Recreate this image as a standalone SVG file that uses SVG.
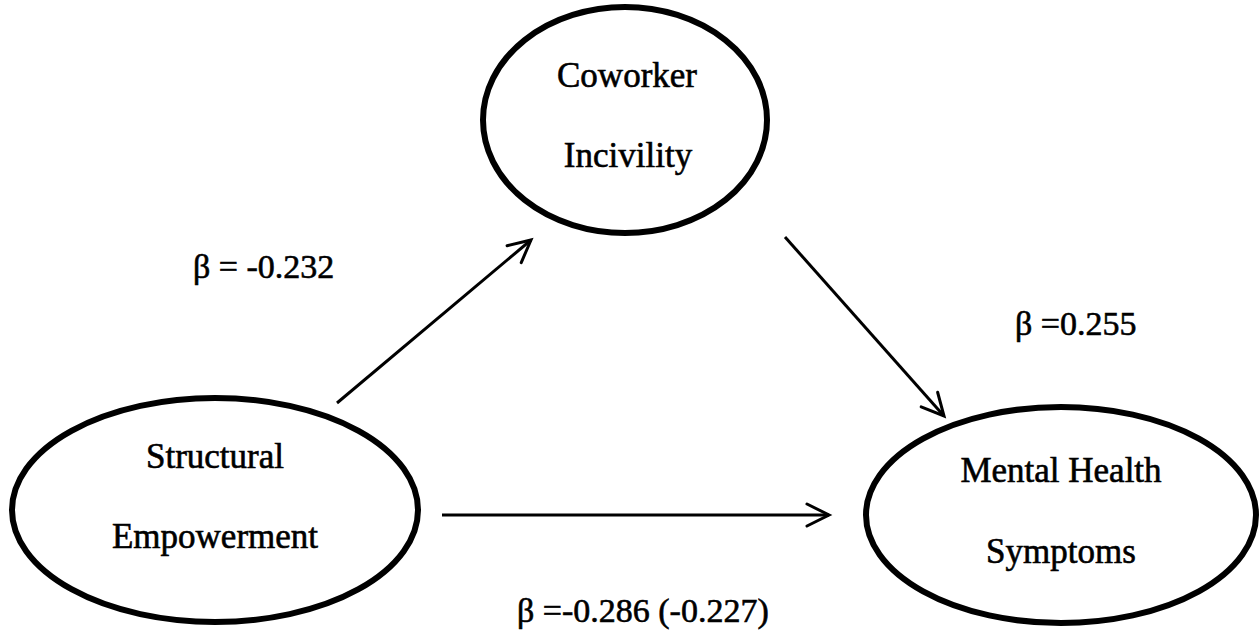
<svg xmlns="http://www.w3.org/2000/svg" width="1259" height="634" viewBox="0 0 1259 634">
<style>
.node ellipse{fill:none;stroke:#000;stroke-width:6}
text{font-family:"Liberation Serif","DejaVu Serif","Times New Roman",serif;fill:#000;stroke:#000;stroke-width:0.6}
.lbl{font-size:35px;text-anchor:middle}
.coef{font-size:34px}
#connectors line{stroke:#000;stroke-width:3;fill:none}
</style>
<defs>
<marker id="arr" markerUnits="userSpaceOnUse" markerWidth="40" markerHeight="40" viewBox="-30 -20 40 40" refX="0" refY="0" orient="auto" overflow="visible">
<path d="M-22,-11 L0,0 L-22,11" fill="none" stroke="#000" stroke-width="3" stroke-linejoin="miter" stroke-linecap="round"/>
</marker>
</defs>
<rect width="1259" height="634" fill="#fff"/>
<g id="connectors">
<line x1="337" y1="403" x2="531" y2="240" marker-end="url(#arr)"/>
<line x1="785" y1="237" x2="944" y2="416" marker-end="url(#arr)"/>
<line x1="442" y1="515" x2="829" y2="515" marker-end="url(#arr)"/>
</g>
<g id="coworker" class="node">
<ellipse cx="625" cy="120" rx="142" ry="113"/>
<text class="lbl" x="627" y="87">Coworker</text>
<text class="lbl" x="628" y="167">Incivility</text>
</g>
<g id="structural" class="node">
<ellipse cx="215" cy="510" rx="203" ry="112"/>
<text class="lbl" x="215" y="468">Structural</text>
<text class="lbl" x="215" y="548">Empowerment</text>
</g>
<g id="mental" class="node">
<ellipse cx="1061" cy="515" rx="195" ry="108"/>
<text class="lbl" x="1061" y="482">Mental Health</text>
<text class="lbl" x="1061" y="563">Symptoms</text>
</g>
<g id="labels">
<text class="coef" x="193" y="278">β = -0.232</text>
<text class="coef" x="1015" y="335">β =0.255</text>
<text class="coef" x="517" y="622">β =-0.286 (-0.227)</text>
</g>
</svg>
